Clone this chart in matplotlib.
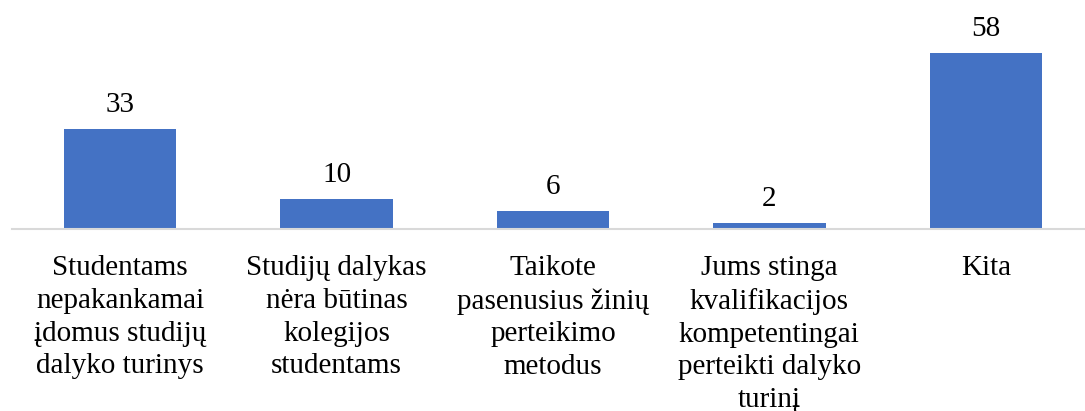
import matplotlib.pyplot as plt

categories = [
    "Studentams\nnepakankamai\nįdomus studijų\ndalyko turinys",
    "Studijų dalykas\nnėra būtinas\nkolegijos\nstudentams",
    "Taikote\npasenusius žinių\nperteikimo\nmetodus",
    "Jums stinga\nkvalifikacijos\nkompetentingai\nperteikti dalyko\nturinį",
    "Kita",
]
values = [33, 10, 6, 2, 58]

plt.rcParams['font.family'] = ['Liberation Serif', 'DejaVu Serif']

fig = plt.figure(figsize=(10.85, 4.11), dpi=100)
ax = fig.add_axes([12 / 1085, 182 / 411, 1082 / 1085, 194 / 411])

x = range(len(values))
bars = ax.bar(x, values, width=0.52, color='#4472C4')
ax.set_xlim(-0.5, 4.5)
ax.set_ylim(0, 64)

for b, v in zip(bars, values):
    ax.annotate(str(v), (b.get_x() + b.get_width() / 2, v),
                xytext=(0, 8), textcoords='offset points',
                ha='center', va='bottom', fontsize=21, annotation_clip=False)

ax.set_xticks(list(x))
ax.set_xticklabels(categories, fontsize=21, linespacing=1.33, va='top', ha='center')
ax.tick_params(axis='x', length=0, pad=19)
ax.set_yticks([])

for s in ['top', 'right', 'left']:
    ax.spines[s].set_visible(False)
ax.spines['bottom'].set_color('#D9D9D9')
ax.spines['bottom'].set_linewidth(1.5)

plt.savefig('out.png', dpi=100)
